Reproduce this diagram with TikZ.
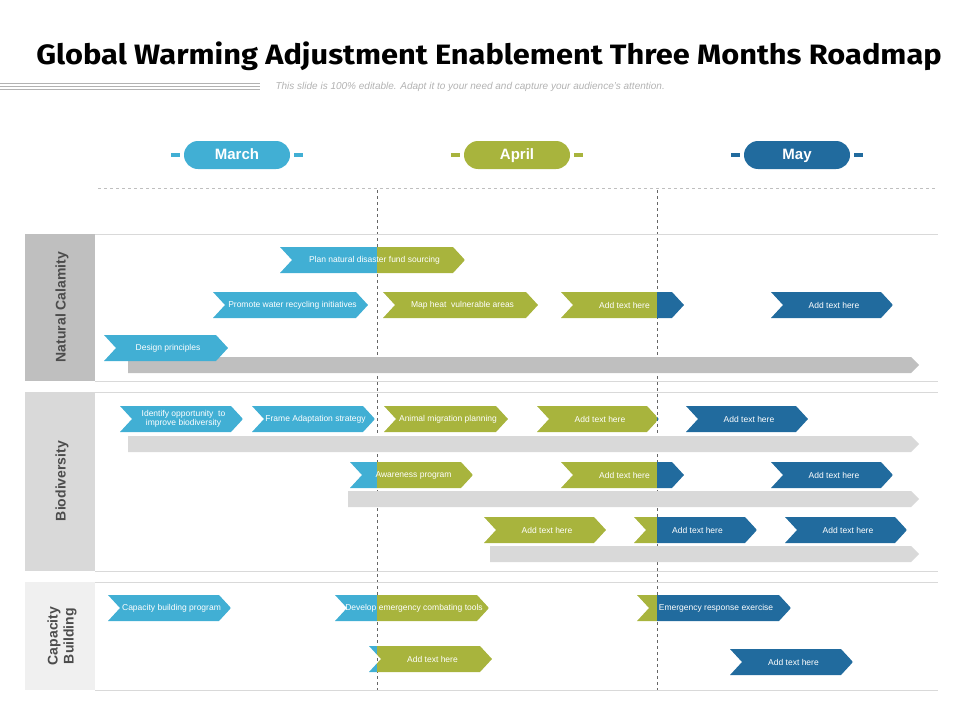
\documentclass[tikz,border=0pt]{standalone}
\usepackage{fontspec}
\setmainfont{Liberation Sans}
\newfontfamily\titlefont{Fira Sans}
\definecolor{skyblue}{HTML}{41AFD4}
\definecolor{olive}{HTML}{A8B43D}
\definecolor{navy}{HTML}{216B9E}
\definecolor{rowA}{HTML}{BFBFBF}
\definecolor{rowB}{HTML}{D9D9D9}
\definecolor{rowC}{HTML}{F0F0F0}
\tikzset{
  month/.style={rounded corners=14pt, minimum width=106pt, minimum height=28pt,
    text=white, font=\bfseries\fontsize{15}{15}\selectfont, inner sep=0pt,
    text height=11pt, text depth=3pt},
  tick/.style={line width=4pt},
  sidelabel/.style={rotate=90, font=\bfseries\fontsize{14}{16}\selectfont, text=black!70, align=center},
  chevtext/.style={text=white, font=\fontsize{8.5}{9}\selectfont, align=center},
  rowline/.style={black!15, line width=0.8pt},
}
% chevron: x1, x2, y, left colour, right colour, split, name, text
\newcommand{\chev}[8]{%
  \begin{scope}
    \clip (#1,#3-13) -- (#2-12,#3-13) -- (#2,#3) -- (#2-12,#3+13) -- (#1,#3+13) -- (#1+12,#3) -- cycle;
    \fill[#4] (#1,#3-14) rectangle (#6,#3+14);
    \fill[#5] (#6,#3-14) rectangle (#2,#3+14);
  \end{scope}
  \node[chevtext] (#7) at ({(#1+#2)/2+2},#3) {#8};}
\newcommand{\gbar}[4]{%
  \fill[#4] (#1,#3-8) -- (#2-8,#3-8) -- (#2,#3) -- (#2-8,#3+8) -- (#1,#3+8) -- cycle;}
\begin{document}
\begin{tikzpicture}[x=1pt,y=-1pt]
  \useasboundingbox (0,0) rectangle (960,720);

  % ~~~~ Title ~~~~ %
  \node[font=\titlefont\bfseries\fontsize{28}{30}\selectfont] (title) at (489,56)
    {\scalebox{1.1}[1]{Global Warming Adjustment Enablement Three Months Roadmap}};
  \foreach \yy in {83,86,89} \draw[black!30, line width=0.6pt] (0,\yy) -- (260,\yy);
  \node[font=\itshape\fontsize{10}{11}\selectfont, text=black!30, anchor=west] (sub) at (272,87)
    {This slide is 100\% editable. Adapt it to your need and capture your audience's attention.};

  % ~~~~ Months ~~~~ %
  \foreach \cx/\col/\name in {237/skyblue/March, 517/olive/April, 797/navy/May} {
    \draw[tick, \col] (\cx-66,155) -- (\cx-57,155);
    \draw[tick, \col] (\cx+57,155) -- (\cx+66,155);
    \node[month, fill=\col] (m\name) at (\cx,155) {\name};
  }
  \draw[dashed, black!25] (98,188) -- (935,188);
  \draw[dashed, black!60] (377,190) -- (377,690);
  \draw[dashed, black!60] (657,190) -- (657,690);

  % ~~~~ Rows ~~~~ %
  \fill[rowA] (25,234) rectangle (95,381);
  \fill[rowB] (25,392) rectangle (95,571);
  \fill[rowC] (25,582) rectangle (95,690);
  \foreach \yy in {234,381,392,571,582,690} \draw[rowline] (95,\yy) -- (938,\yy);
  \node[sidelabel] (natural) at (62,307) {Natural Calamity};
  \node[sidelabel] (bio) at (62,481) {Biodiversity};
  \node[sidelabel] (capacity) at (62,636) {Capacity\\Building};

  % ~~~~ Bars ~~~~ %
  \gbar{128}{919}{365}{black!25}
  \gbar{128}{919}{444}{black!15}
  \gbar{348}{919}{499}{black!15}
  \gbar{490}{919}{554}{black!15}

  % ~~~~ Natural Calamity ~~~~ %
  \chev{280}{465}{260}{skyblue}{olive}{377}{c1}{Plan natural disaster fund sourcing}
  \chev{213}{368}{305}{skyblue}{skyblue}{368}{c2}{Promote water recycling initiatives}
  \chev{383}{538}{305}{olive}{olive}{538}{c3}{Map heat \ vulnerable areas}
  \chev{561}{684}{305}{olive}{navy}{657}{c4}{Add text here}
  \chev{771}{893}{305}{navy}{navy}{893}{c5}{Add text here}
  \chev{104}{228}{348}{skyblue}{skyblue}{228}{c6}{Design principles}

  % ~~~~ Biodiversity ~~~~ %
  \chev{120}{243}{419}{skyblue}{skyblue}{243}{b1}{Identify opportunity \ to\\improve biodiversity}
  \chev{252}{375}{419}{skyblue}{skyblue}{375}{b2}{Frame Adaptation strategy}
  \chev{384}{508}{419}{olive}{olive}{508}{b3}{Animal migration planning}
  \chev{537}{659}{419}{olive}{navy}{657}{b4}{Add text here}
  \chev{686}{808}{419}{navy}{navy}{808}{b5}{Add text here}
  \chev{350}{473}{475}{skyblue}{olive}{377}{b6}{Awareness program}
  \chev{561}{684}{475}{olive}{navy}{657}{b7}{Add text here}
  \chev{771}{893}{475}{navy}{navy}{893}{b8}{Add text here}
  \chev{484}{606}{530}{olive}{olive}{606}{b9}{Add text here}
  \chev{634}{757}{530}{olive}{navy}{657}{b10}{Add text here}
  \chev{785}{907}{530}{navy}{navy}{907}{b11}{Add text here}

  % ~~~~ Capacity Building ~~~~ %
  \chev{108}{231}{608}{skyblue}{skyblue}{231}{k1}{Capacity building program}
  \chev{335}{489}{608}{skyblue}{olive}{377}{k2}{Develop emergency combating tools}
  \chev{637}{791}{608}{olive}{navy}{657}{k3}{Emergency response exercise}
  \chev{369}{492}{659}{skyblue}{olive}{377}{k4}{Add text here}
  \chev{730}{853}{662}{navy}{navy}{853}{k5}{Add text here}
\end{tikzpicture}
\end{document}
